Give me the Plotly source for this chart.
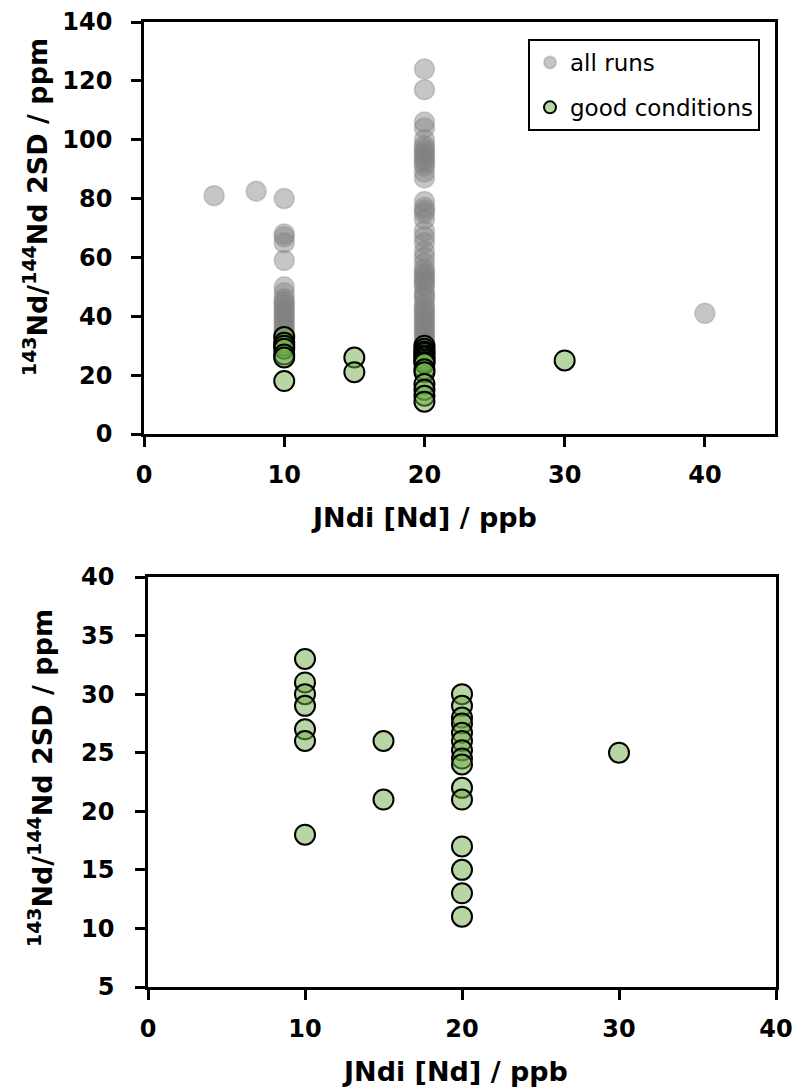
import plotly.graph_objects as go

# ---------------- data ----------------
# JNdi concentrations (ppb) and 143Nd/144Nd 2SD (ppm)
# runs outside the "good conditions" subset (grey)
runs_5ppb = [81]
runs_8ppb = [82.5]
runs_10ppb = [80, 68, 67, 65, 59, 50, 48, 46, 45, 44, 43, 42, 41, 40, 39, 38, 37, 36, 35, 34]
runs_20ppb = [124, 117, 106, 104, 100, 98, 97, 96, 95, 94, 93, 92, 91, 89, 87,
              79, 77, 76, 75, 73, 69, 67, 65, 62, 60, 58, 56, 55, 54, 53, 52, 51, 50,
              48, 47, 46, 44, 43, 42, 41, 40, 39, 38, 37, 36, 35, 34, 33, 32, 31]
runs_40ppb = [41]

# "good conditions" runs (green)
good_10ppb = [33, 31, 30, 29, 27, 26, 18]
good_15ppb = [26, 21]
good_20ppb = [30, 29, 28, 27.5, 26.7, 26, 25.2, 24.5, 24, 22, 21, 17, 15, 13, 11]
good_30ppb = [25]

x_ticks_top = [0, 10, 20, 30, 40]
y_ticks_top = [0, 20, 40, 60, 80, 100, 120, 140]
x_ticks_bot = [0, 10, 20, 30, 40]
y_ticks_bot = [5, 10, 15, 20, 25, 30, 35, 40]

# ---------------- build series ----------------
def flat(groups):
    xs, ys = [], []
    for conc, vals in groups:
        for v in vals:
            xs.append(conc)
            ys.append(v)
    return xs, ys

good_x, good_y = flat([(10, good_10ppb), (15, good_15ppb), (20, good_20ppb), (30, good_30ppb)])
oth_x, oth_y = flat([(5, runs_5ppb), (8, runs_8ppb), (10, runs_10ppb), (20, runs_20ppb), (40, runs_40ppb)])

W, H = 795, 1090
FONT = "DejaVu Sans"

gray_fill = "rgba(128,128,128,0.45)"
gray_line = "rgba(128,128,128,0.35)"
green_fill = "rgba(112,173,71,0.5)"

fig = go.Figure()

fig.add_trace(go.Scatter(
    x=oth_x, y=oth_y, mode="markers", name="all runs",
    marker=dict(size=20, color=gray_fill, line=dict(color=gray_line, width=1.5)),
    xaxis="x", yaxis="y", legendgroup="a"))
fig.add_trace(go.Scatter(
    x=good_x, y=good_y, mode="markers", name="good conditions",
    marker=dict(size=20, color=green_fill, line=dict(color="black", width=2)),
    xaxis="x", yaxis="y", legendgroup="b"))
fig.add_trace(go.Scatter(
    x=good_x, y=good_y, mode="markers", name="good conditions", showlegend=False,
    marker=dict(size=20, color=green_fill, line=dict(color="black", width=2)),
    xaxis="x2", yaxis="y2"))

tickfont = dict(family=FONT, size=24, color="black", weight="bold")
axcommon = dict(showline=True, linecolor="black", linewidth=2.5, mirror=True,
                ticks="outside", ticklen=10, tickwidth=2.5, tickcolor="black",
                showgrid=False, zeroline=False, tickfont=tickfont, automargin=False)

fig.update_layout(
    width=W, height=H,
    margin=dict(l=0, r=0, t=0, b=0, pad=0, autoexpand=False),
    paper_bgcolor="white", plot_bgcolor="white",
    showlegend=True,
    xaxis=dict(domain=[144 / W, 775 / W], range=[0, 45], tickvals=x_ticks_top,
               anchor="y", ticklabelstandoff=7, **axcommon),
    yaxis=dict(domain=[1 - 434 / H, 1 - 22 / H], range=[0, 140], tickvals=y_ticks_top,
               anchor="x", ticklabelstandoff=14, **axcommon),
    xaxis2=dict(domain=[148 / W, 776 / W], range=[0, 40], tickvals=x_ticks_bot,
                anchor="y2", ticklabelstandoff=8, **axcommon),
    yaxis2=dict(domain=[1 - 987 / H, 1 - 577 / H], range=[5, 40], tickvals=y_ticks_bot,
                anchor="x2", ticklabelstandoff=16, **axcommon),
    legend=dict(x=528 / W, y=1 - 39 / H, xanchor="left", yanchor="top",
                bgcolor="white", bordercolor="black", borderwidth=2,
                font=dict(family=FONT, size=23, color="black"),
                itemsizing="constant", traceorder="grouped", tracegroupgap=12),
)

titlefont = dict(family=FONT, size=27, color="black", weight="bold")
ytitle = "<sup>143</sup>Nd/<sup>144</sup>Nd 2SD / ppm"
xtitle = "JNdi [Nd] / ppb"
annots = [
    dict(text=ytitle, x=35 / W, y=1 - 207 / H, textangle=-90),
    dict(text=xtitle, x=424 / W, y=1 - 517 / H, textangle=0),
    dict(text=ytitle, x=40 / W, y=1 - 778 / H, textangle=-90),
    dict(text=xtitle, x=455 / W, y=1 - 1071 / H, textangle=0),
]
for a in annots:
    fig.add_annotation(xref="paper", yref="paper", xanchor="center", yanchor="middle",
                       showarrow=False, font=titlefont, **a)

fig.write_html(
    "out.html",
    post_script="document.body.style.margin='0';"
                "document.documentElement.style.overflow='hidden';",
)
